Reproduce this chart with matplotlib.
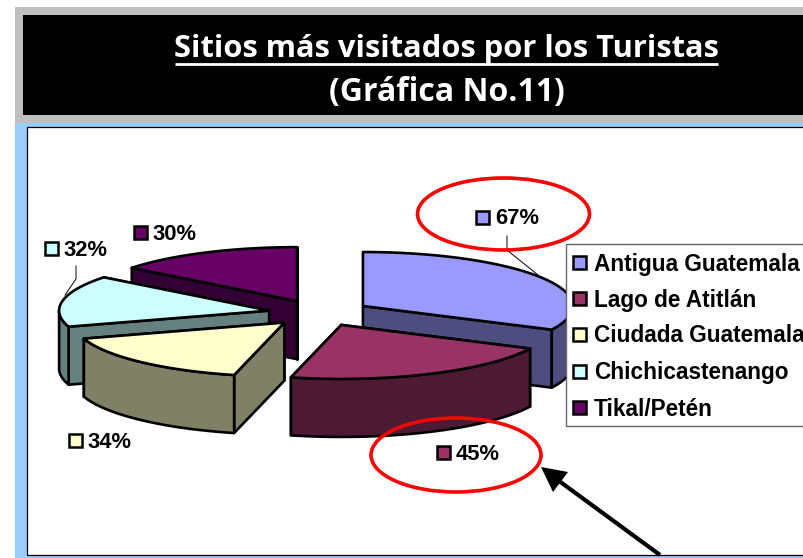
import numpy as np
import matplotlib
matplotlib.use('Agg')
import matplotlib.pyplot as plt
from matplotlib.patches import Rectangle, Polygon, Ellipse

# Chart data
sitios = ['Antigua Guatemala', 'Lago de Atitlán', 'Ciudada Guatemala', 'Chichicastenango', 'Tikal/Petén']
porcentajes = [67, 45, 34, 32, 30]
colores = ['#9999FF', '#993366', '#FFFFCC', '#CCFFFF', '#660066']
colores_lado = ['#4D4D80', '#4D1A33', '#808066', '#668080', '#330033']
titulo = 'Sitios más visitados por los Turistas'
subtitulo = '(Gráfica No.11)'

# Pie geometry, in pixels
CX, CY = 319.5, 313
RX, RY = 210, 54
DEPTH = 58
EXPLODE = 0.244
ORDEN = [4, 0, 3, 2, 1]  # back to front


def punto(cx, cy, ang):
    rad = np.radians(ang)
    return cx + RX * np.sin(rad), cy - RY * np.cos(rad)


def dibujar_porcion(ax, i, ini, fin):
    mitad = np.radians((ini + fin) / 2)
    cx = CX + EXPLODE * RX * np.sin(mitad)
    cy = CY - EXPLODE * RY * np.cos(mitad)
    estilo = dict(edgecolor='black', linewidth=1.9, joinstyle='round')

    # Radial walls, the one facing the viewer goes last
    for ang in sorted([ini, fin], key=lambda a: -np.cos(np.radians(a))):
        x, y = punto(cx, cy, ang)
        ax.add_patch(Polygon([(cx, cy), (x, y), (x, y + DEPTH), (cx, cy + DEPTH)],
                             facecolor=colores_lado[i], **estilo))

    # Outer wall, only the front half of the ellipse is seen
    a0, a1 = max(ini, 90), min(fin, 270)
    if a1 > a0:
        xs, ys = punto(cx, cy, np.linspace(a0, a1, 80))
        pared = np.r_[np.c_[xs, ys], np.c_[xs, ys + DEPTH][::-1]]
        ax.add_patch(Polygon(pared, facecolor=colores_lado[i], **estilo))

    xs, ys = punto(cx, cy, np.linspace(ini, fin, 120))
    ax.add_patch(Polygon(np.r_[[(cx, cy)], np.c_[xs, ys]], facecolor=colores[i], **estilo))


def caja(ax, x, y, color):
    ax.add_patch(Rectangle((x - 6.5, y - 6.5), 13, 13, facecolor=color,
                           edgecolor='black', linewidth=1.8, zorder=6))


fig = plt.figure(figsize=(8.04, 5.58), dpi=100)
ax = fig.add_axes([0, 0, 1, 1])
ax.set_xlim(0, 804)
ax.set_ylim(558, 0)
ax.axis('off')

# Background frames
ax.add_patch(Rectangle((15, 7), 800, 116, facecolor='#C0C0C0', edgecolor='none'))
ax.add_patch(Rectangle((23, 15), 800, 100, facecolor='black', edgecolor='none'))
ax.add_patch(Rectangle((15, 123), 800, 440, facecolor='#99CCFF', edgecolor='none'))
ax.add_patch(Rectangle((27, 127), 800, 428, facecolor='white', edgecolor='black', linewidth=0.9))

ax.text(446.5, 49, titulo, color='white', fontsize=22.2, fontweight='bold', family='Open Sans',
        ha='center', va='center')
ax.plot([175, 718], [64, 64], color='white', linewidth=2, solid_capstyle='butt')
ax.text(446.5, 92, subtitulo, color='white', fontsize=23, fontweight='bold', family='Open Sans',
        ha='center', va='center')

# Pie slices
angulos = np.r_[0, np.cumsum(porcentajes)] / np.sum(porcentajes) * 360
for i in ORDEN:
    dibujar_porcion(ax, i, angulos[i], angulos[i + 1])

# Leader lines
ax.plot([507, 507, 538], [236, 250, 275], color='black', linewidth=0.7)
ax.plot([76, 76, 65], [266, 279, 295], color='black', linewidth=0.7)

# Value labels
etiquetas_pos = [(483, 217), (444, 452), (76, 440), (52, 248), (141, 232)]
for i, (x, y) in enumerate(etiquetas_pos):
    caja(ax, x, y, colores[i])
    ax.text(x + 12, y + 2, f'{porcentajes[i]}%', fontsize=15.8, fontweight='bold',
            family='Liberation Sans', va='center', ha='left', color='black', zorder=6)

# Legend
ax.add_patch(Rectangle((566, 244), 260, 182, facecolor='white', edgecolor='#666666',
                       linewidth=1, zorder=5))
for i, y in enumerate([262, 298, 334, 371, 407]):
    caja(ax, 580, y, colores[i])
    ax.text(594, y + 2, sitios[i], fontsize=16.3, fontweight='bold', family='Liberation Sans',
            va='center', ha='left', color='black', zorder=6, clip_on=True)

# Red circles and arrow
ax.add_patch(Ellipse((503.5, 214), 172, 72, fill=False, edgecolor='#FF0000', linewidth=2.6, zorder=7))
ax.add_patch(Ellipse((456, 455), 170, 74, fill=False, edgecolor='#FF0000', linewidth=2.6, zorder=7))
ax.plot([660, 555], [555, 478], color='black', linewidth=3, solid_capstyle='butt', zorder=7)
ax.add_patch(Polygon([(541, 467), (568, 472), (553, 492)], facecolor='black', edgecolor='none', zorder=7))

fig.savefig('out.png', dpi=100)
plt.close(fig)
